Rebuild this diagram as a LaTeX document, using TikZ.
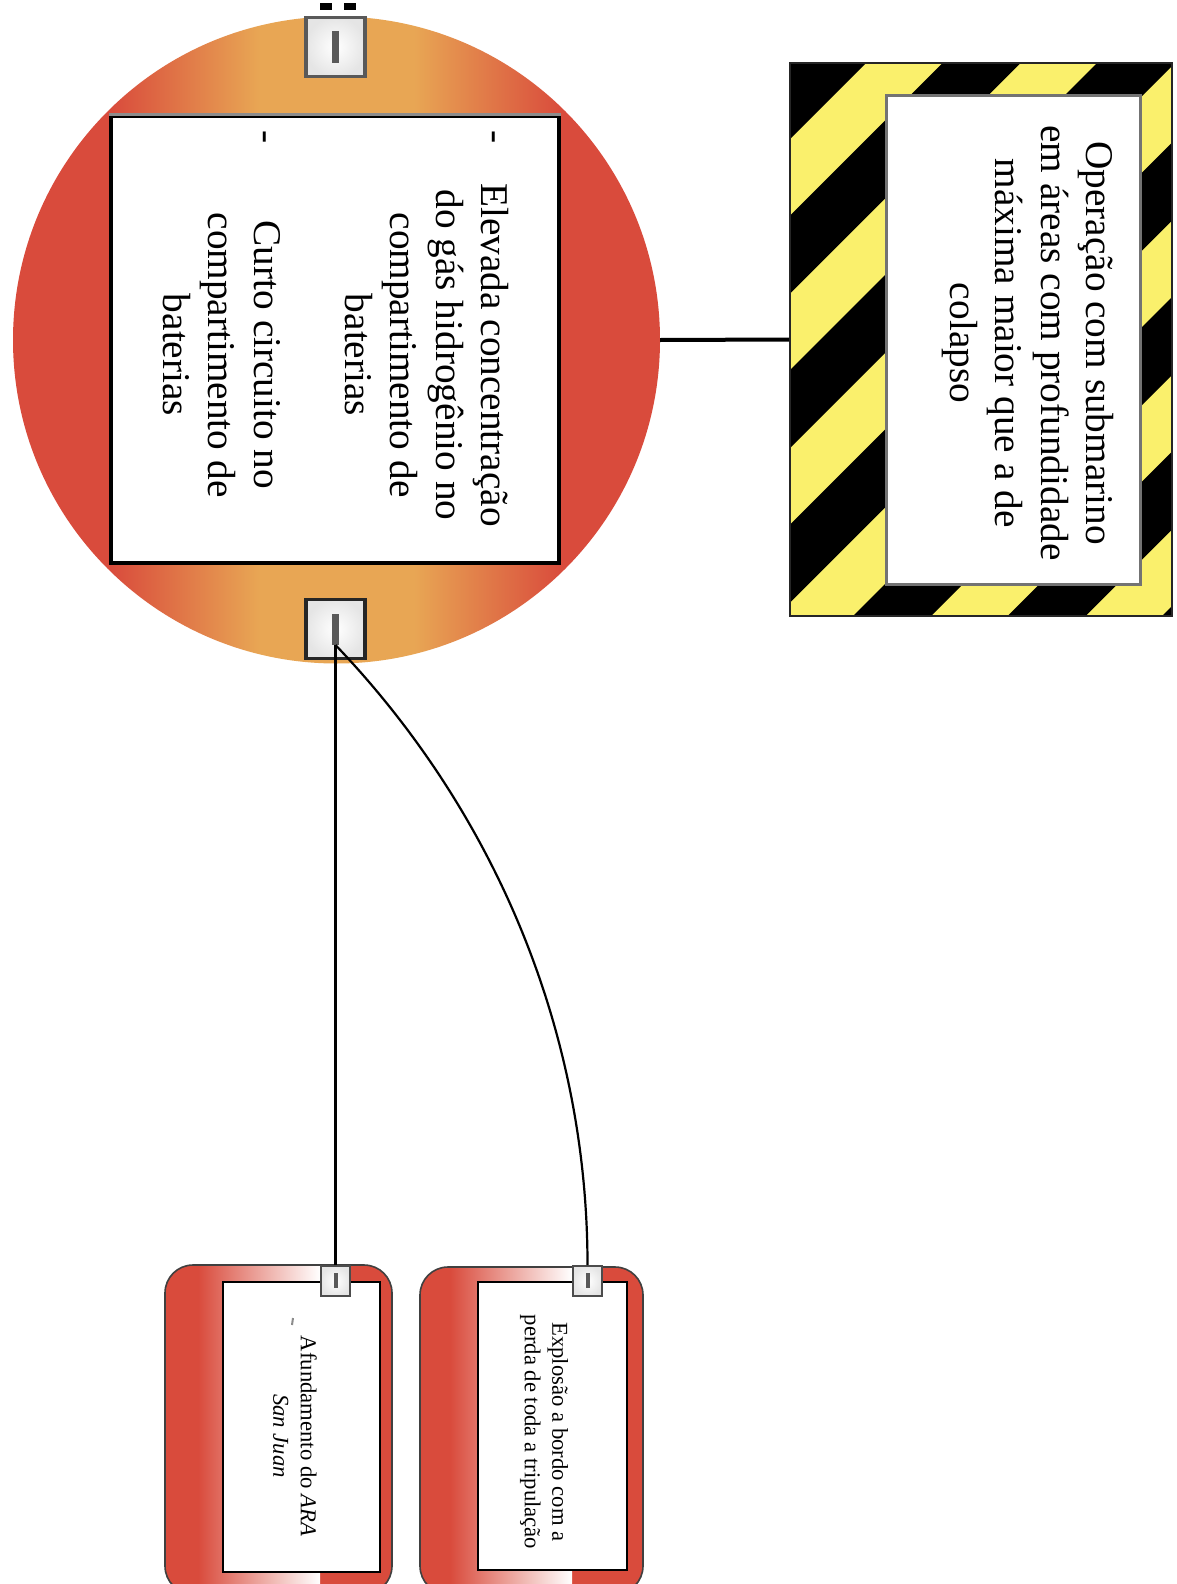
\documentclass[tikz,border=0pt]{standalone}
\usepackage{fontspec}
\setmainfont{Liberation Serif}
\definecolor{cred}{RGB}{217,75,60}
\definecolor{corange}{RGB}{232,166,84}
\definecolor{hyellow}{RGB}{250,240,108}
% red at the rim, orange through the middle (25bp..75bp spans the path)
\pgfdeclarehorizontalshading{lensshade}{100bp}{color(0bp)=(cred); color(32.5bp)=(cred); color(44bp)=(corange); color(56bp)=(corange); color(67.5bp)=(cred); color(100bp)=(cred)}
\tikzset{
  bigfont/.style={font=\fontsize{39.3pt}{45.5pt}\selectfont},
  smallfont/.style={font=\fontsize{22.7pt}{27.5pt}\selectfont},
  vtext/.style={rotate=-90, align=center, inner sep=0pt},
  port/.style={draw=black!85, line width=3.5pt, minimum size=59pt, inner sep=0pt, inner color=white, outer color=black!10},
  smallport/.style={draw=black!70, line width=2pt, minimum width=29pt, minimum height=30pt, inner sep=0pt, inner color=white, outer color=black!10},
  portbar/.style={line width=7pt, black!65},
  smallbar/.style={line width=4pt, black!65},
  conn/.style={line width=2.2pt, black},
  link/.style={line width=4pt, black},
  whitebox/.style={draw=black, fill=white, inner sep=0pt},
  boxedge/.style={draw=black!75, line width=1.6pt, rounded corners=28pt},
}
\begin{document}
\begin{tikzpicture}[x=1pt, y=-1pt]
\useasboundingbox (0,0) rectangle (1176,1584);
\clip (0,0) rectangle (1176,1584);
\fill[white] (0,0) rectangle (1176,1584);

% ---------- causes lens ----------
\node[circle, inner sep=0pt, minimum size=647pt, shade, shading=lensshade] (lens) at (336.5,340) {};
\node[whitebox, line width=3.5pt, minimum width=448pt, minimum height=447pt] (causebox) at (335,339.5) {};
\draw[black!45, line width=3pt] (causebox.north west) -- (causebox.north east);
\node[vtext, bigfont] (causes) at (336,355) {Elevada concentração\\do gás hidrogênio no\\compartimento de\\baterias\\[45.5pt]Curto circuito no\\compartimento de\\baterias};
\node[vtext, bigfont] (bullet1) at (490,137) {-};
\node[vtext, bigfont] (bullet2) at (261,137) {-};

% ports of the lens
\fill[black] (320,3) rectangle (332,10);
\fill[black] (344,3) rectangle (356,10);
\node[port, draw=black!65] (pTop) at (335.5,47) {};
\draw[portbar] (335.5,31) -- (335.5,63);
\node[port] (pBot) at (335.5,629) {};
\draw[portbar] (335.5,614) -- (335.5,645);
\coordinate (src) at (335.5,645);

% ---------- hazard box ----------
\begin{scope}
  \clip (790,63) rectangle (1172,616);
  \fill[hyellow] (790,63) rectangle (1172,616);
  \foreach \m in {-1,...,6} {
    \pgfmathsetmacro\ca{851+154.5*\m}
    \pgfmathsetmacro\cb{929+154.5*\m}
    \fill[black] (780,\ca-780) -- (1180,\ca-1180) -- (1180,\cb-1180) -- (780,\cb-780) -- cycle;
  }
\end{scope}
\node[draw=black!85, line width=2pt, minimum width=382pt, minimum height=553pt, inner sep=0pt] (hazard) at (981,339.5) {};
\node[whitebox, draw=black!55, line width=3pt, minimum width=254pt, minimum height=488pt] (hazardbox) at (1013,340) {};
\node[vtext, bigfont] (hazardtext) at (1028,343) {Operação com submarino\\em áreas com profundidade\\máxima maior que a de\\colapso};

\draw[link] (lens.east) -- (hazard.west);

% ---------- consequence boxes ----------
\begin{scope}
  \clip[rounded corners=28pt] (165,1265) rectangle (392,1594);
  \fill[cred] (165,1265) rectangle (392,1594);
  \shade[left color=cred, right color=white] (198,1265) rectangle (320,1594);
\end{scope}
\draw[boxedge] (165,1265) rectangle (392,1594);
\node[whitebox, line width=2.5pt, minimum width=157pt, minimum height=290pt] (boxA) at (301.5,1427) {};
\node[vtext, smallfont] (textA) at (295,1436) {Afundamento do \textit{ARA}\\\textit{San Juan}};
\draw[black!45, line width=2pt] (293,1318) -- (292,1325);
\node[smallport] (pA) at (335.5,1281) {};
\draw[smallbar] (335.5,1273) -- (335.5,1288);

\begin{scope}
  \clip[rounded corners=28pt] (420,1267) rectangle (643,1594);
  \fill[cred] (420,1267) rectangle (643,1594);
  \shade[left color=cred, right color=white] (450,1267) rectangle (572,1594);
\end{scope}
\draw[boxedge] (420,1267) rectangle (643,1594);
\node[whitebox, line width=2.5pt, minimum width=149pt, minimum height=288pt] (boxB) at (552.5,1426) {};
\node[vtext, smallfont] (textB) at (544,1432) {Explosão a bordo com a\\perda de toda a tripulação};
\node[smallport] (pB) at (587.5,1281) {};
\draw[smallbar] (587.5,1273) -- (587.5,1288);

% ---------- connectors ----------
\draw[conn] (src) -- (pA.north);
\draw[conn] (src) .. controls (497,814) and (587.5,1034) .. (pB.north);
\end{tikzpicture}
\end{document}
